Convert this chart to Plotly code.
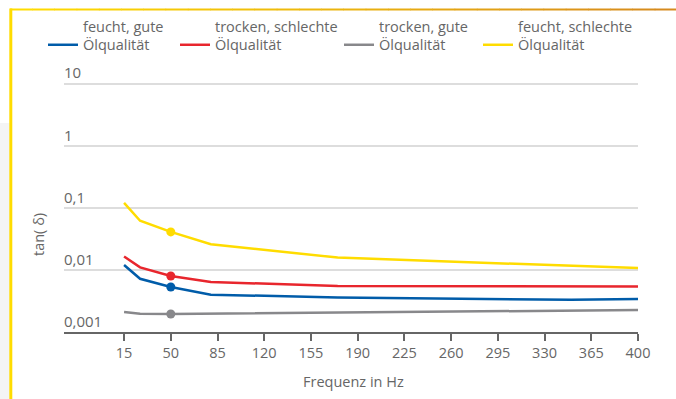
import plotly.graph_objects as go

# ---- data ----
freq = [15, 27, 50, 80, 175, 350, 400]
feucht_gute = [0.012, 0.0072, 0.0053, 0.0040, 0.0036, 0.0033, 0.0034]
trocken_schlechte = [0.0165, 0.011, 0.0080, 0.0064, 0.0055, 0.0054, 0.0054]
trocken_gute = [0.0021, 0.00197, 0.00195, 0.00197, 0.00208, 0.00222, 0.00226]
feucht_schlechte = [0.12, 0.062, 0.041, 0.026, 0.0158, 0.0115, 0.0107]

marker_freq = 50

series_names = ["feucht, gute<br>Ölqualität", "trocken, schlechte<br>Ölqualität",
                "trocken, gute<br>Ölqualität", "feucht, schlechte<br>Ölqualität"]
series_vals = [feucht_gute, trocken_schlechte, trocken_gute, feucht_schlechte]
colors = ["#005ca9", "#e8262d", "#88888b", "#ffdc00"]

x_ticks = [15, 50, 85, 120, 155, 190, 225, 260, 295, 330, 365, 400]
y_ticks = [0.001, 0.01, 0.1, 1, 10]
y_ticktext = ["0,001", "0,01", "0,1", "1", "10"]

FONT = "Open Sans"
TXT = "#666666"

W, H = 676, 399
L, R, B = 64, 38, 67
YTOP = 1.35                      # log10 upper range
DEC = 62.0                       # px per decade
T = int(round(H - B - (YTOP + 3) * DEC))
pw, ph = W - L - R, H - T - B


def px(xp):
    return (xp - L) / pw


def py(yp):
    return (H - B - yp) / ph


legend_ids = ["legend", "legend2", "legend3", "legend4"]
legend_text_x = [83, 215, 379, 518]

fig = go.Figure()
for name, vals, col, lid in zip(series_names, series_vals, colors, legend_ids):
    fig.add_trace(go.Scatter(x=freq, y=vals, mode="lines", name=name, legend=lid,
                             line=dict(color=col, width=2.5)))
for vals, col in zip(series_vals, colors):
    i = freq.index(marker_freq)
    fig.add_trace(go.Scatter(x=[freq[i]], y=[vals[i]], mode="markers", showlegend=False,
                             marker=dict(color=col, size=9), hoverinfo="skip"))

shapes = []
# left gray strip
shapes.append(dict(type="rect", xref="paper", yref="paper", x0=px(-1), x1=px(9.5),
                   y0=py(123), y1=py(401), fillcolor="#f4f4f4", line_width=0, layer="below"))
# yellow vertical frame line
shapes.append(dict(type="line", xref="paper", yref="paper", x0=px(10.8), x1=px(10.8),
                   y0=py(8.5), y1=py(401), line=dict(color="#ffdc00", width=3)))
# top gradient line
c0 = (255, 220, 0)
c1 = (214, 138, 30)
n = 30
x_start, x_end = 10, 677
for k in range(n):
    t = k / (n - 1)
    c = tuple(int(round(c0[j] + (c1[j] - c0[j]) * t)) for j in range(3))
    xa = x_start + (x_end - x_start) * k / n
    xb = x_start + (x_end - x_start) * (k + 1) / n
    shapes.append(dict(type="line", xref="paper", yref="paper", x0=px(xa), x1=px(xb + 0.5),
                       y0=py(9.5), y1=py(9.5), line=dict(color="rgb(%d,%d,%d)" % c, width=2)))

layout = dict(
    width=W, height=H, autosize=False,
    margin=dict(l=L, r=R, t=T, b=B, autoexpand=False),
    paper_bgcolor="white", plot_bgcolor="white",
    font=dict(family=FONT, color=TXT, size=14),
    showlegend=True,
    xaxis=dict(range=[-30, 400], tickvals=x_ticks, ticks="outside", ticklen=7,
               tickwidth=1.5, tickcolor="#666", showline=True, linecolor="#666",
               linewidth=2, showgrid=False, zeroline=False,
               tickfont=dict(size=14.5, color=TXT)),
    yaxis=dict(type="log", range=[-3, YTOP], tickvals=y_ticks, ticktext=y_ticktext,
               ticklabelposition="inside top", ticklabelstandoff=-3,
               showgrid=True, gridcolor="#dddddd",
               gridwidth=1.5, showline=False, zeroline=False,
               tickfont=dict(size=15, color=TXT)),
    shapes=shapes,
    annotations=[
        dict(text="tan( δ)", xref="paper", yref="paper", x=px(38), y=py(235),
             textangle=-90, showarrow=False, font=dict(size=14.5, color=TXT),
             xanchor="center", yanchor="middle"),
        dict(text="Frequenz in Hz", xref="paper", yref="paper", x=px(353), y=py(381),
             showarrow=False, font=dict(size=14.5, color=TXT),
             xanchor="center", yanchor="middle"),
    ],
)
for lid, tx in zip(legend_ids, legend_text_x):
    layout[lid] = dict(orientation="h", x=px(tx - 40), xanchor="left", y=py(10), yanchor="top",
                       font=dict(size=14.5, color=TXT, family=FONT), valign="bottom",
                       bgcolor="rgba(0,0,0,0)")
fig.update_layout(**layout)

fig.write_html("out.html", config={"displayModeBar": False},
               post_script="document.body.style.margin='0';document.body.style.padding='0';")
